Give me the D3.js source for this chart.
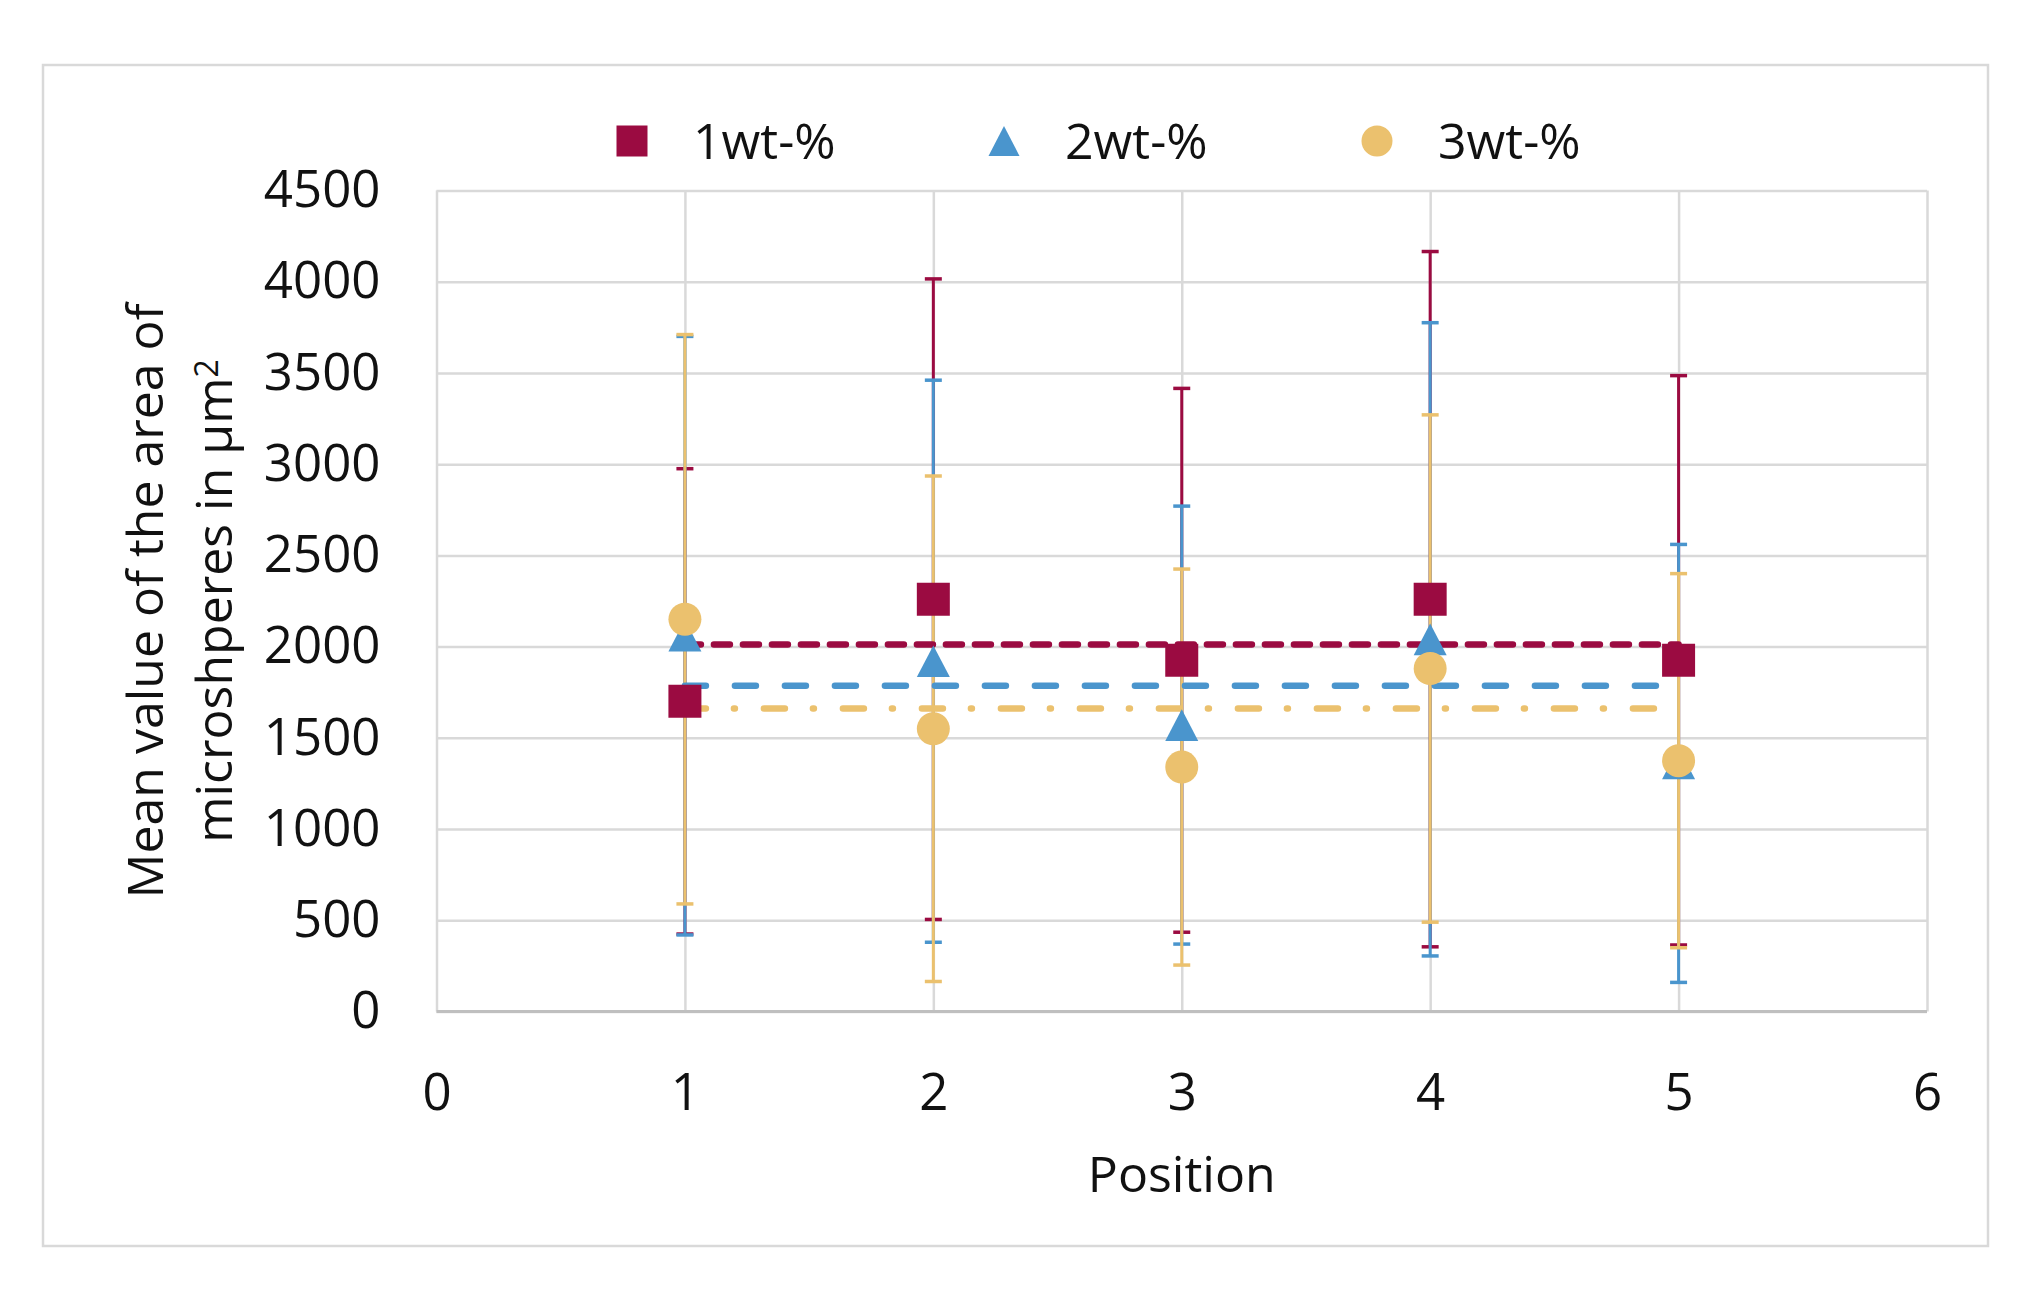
<!DOCTYPE html>
<html>
<head>
<meta charset="utf-8">
<script src="https://cdn.jsdelivr.net/npm/d3@7"></script>
<style>
  body { margin: 0; background: #fff; }
  text { font-family: "Open Sans", "Noto Sans", sans-serif; fill: #111; }
</style>
</head>
<body>
<div id="chart"></div>
<script>
var width = 2031, height = 1298;

// DATA
var positions = [1, 2, 3, 4, 5];
var seriesNames = ["1wt-%", "2wt-%", "3wt-%"];
var wt1 = [1700, 2260, 1925, 2260, 1925];
var wt1Err = [1275, 1755, 1490, 1905, 1560];
var wt2 = [2060, 1920, 1570, 2040, 1360];
var wt2Err = [1640, 1540, 1200, 1735, 1200];
var wt3 = [2150, 1550, 1340, 1880, 1375];
var wt3Err = [1560, 1385, 1085, 1390, 1025];
var meanValues = [2012, 1786, 1661];
var xTicks = [0, 1, 2, 3, 4, 5, 6];
var yTicks = [0, 500, 1000, 1500, 2000, 2500, 3000, 3500, 4000, 4500];

var colors = ["#9b0b41", "#4a95cd", "#ebc16e"];
var dashes = ["16,13", "21,29", "21,28,1,29"];

var margin = {left: 436.5, top: 190.4, right: 2031 - 1927, bottom: 1298 - 1011.6};
var plotW = width - margin.left - margin.right,
    plotH = height - margin.top - margin.bottom;

var x = d3.scaleLinear().domain([0, 6]).range([0, plotW]);
var y = d3.scaleLinear().domain([0, 4500]).range([plotH, 0]);

var series = [
  {name: seriesNames[0], vals: wt1, err: wt1Err, mean: meanValues[0], color: colors[0], dash: dashes[0], shape: "square"},
  {name: seriesNames[1], vals: wt2, err: wt2Err, mean: meanValues[1], color: colors[1], dash: dashes[1], shape: "triangle"},
  {name: seriesNames[2], vals: wt3, err: wt3Err, mean: meanValues[2], color: colors[2], dash: dashes[2], shape: "circle"}
];

// triangle a bit taller than equilateral, like the Excel marker
var triangleType = {
  draw: function(ctx, size) {
    var w = Math.sqrt(size);
    ctx.moveTo(0, -w * 0.48);
    ctx.lineTo(w / 2, w * 0.48);
    ctx.lineTo(-w / 2, w * 0.48);
    ctx.closePath();
  }
};
function markerPath(shape, s) {
  if (shape == "square") return d3.symbol().type(d3.symbolSquare).size(s * s)();
  if (shape == "triangle") return d3.symbol().type(triangleType).size(s * s)();
  return d3.symbol().type(d3.symbolCircle).size(Math.PI * s * s / 4)();
}

var svg = d3.select("#chart").append("svg")
  .attr("width", width)
  .attr("height", height);

svg.append("rect").attr("width", width).attr("height", height).attr("fill", "#fff");

// outer frame
svg.append("rect")
  .attr("x", 43).attr("y", 65)
  .attr("width", 1945).attr("height", 1181)
  .attr("fill", "none")
  .attr("stroke", "#d9d9d9")
  .attr("stroke-width", 2.5);

var g = svg.append("g")
  .attr("transform", "translate(" + margin.left + "," + margin.top + ")");

// AXES + GRID
var yAxis = g.append("g")
  .call(d3.axisLeft(y).tickValues(yTicks).tickFormat(d3.format("d")).tickSize(-plotW).tickPadding(56));
var xAxis = g.append("g")
  .attr("transform", "translate(0," + plotH + ")")
  .call(d3.axisBottom(x).tickValues(xTicks).tickFormat(d3.format("d")).tickSize(-plotH).tickPadding(62));

[yAxis, xAxis].forEach(function(a) {
  a.select(".domain").remove();
  a.selectAll(".tick line").attr("stroke", "#d9d9d9").attr("stroke-width", 2.5);
  a.selectAll(".tick text")
    .style("font-family", '"Open Sans", sans-serif')
    .style("font-size", "51px")
    .attr("fill", "#111");
});

g.append("line")
  .attr("x1", 0).attr("x2", plotW)
  .attr("y1", plotH).attr("y2", plotH)
  .attr("stroke", "#bfbfbf")
  .attr("stroke-width", 3);

// ERROR BARS
var capW = 17;
series.forEach(function(s) {
  var eb = g.append("g").attr("class", "errbars")
    .attr("stroke", s.color).attr("stroke-width", 3);
  positions.forEach(function(p, i) {
    var hi = s.vals[i] + s.err[i], lo = s.vals[i] - s.err[i];
    eb.append("line")
      .attr("x1", x(p)).attr("x2", x(p))
      .attr("y1", y(hi)).attr("y2", y(lo));
    [hi, lo].forEach(function(v) {
      eb.append("line")
        .attr("x1", x(p) - capW / 2).attr("x2", x(p) + capW / 2)
        .attr("y1", y(v)).attr("y2", y(v))
        .attr("stroke-width", 3.5);
    });
  });
});

// MEAN LINES
series.forEach(function(s) {
  g.append("line")
    .attr("x1", x(d3.min(positions))).attr("x2", x(d3.max(positions)))
    .attr("y1", y(s.mean)).attr("y2", y(s.mean))
    .attr("stroke", s.color)
    .attr("stroke-width", 6.5)
    .attr("stroke-linecap", "round")
    .attr("stroke-dasharray", s.dash);
});

// MARKERS
series.forEach(function(s) {
  g.selectAll(null)
    .data(positions.map(function(p, i) { return {p: p, v: s.vals[i]}; }))
    .enter().append("path")
    .attr("transform", function(d) { return "translate(" + x(d.p) + "," + y(d.v) + ")"; })
    .attr("d", markerPath(s.shape, 33))
    .attr("fill", s.color);
});

// AXIS TITLES
svg.append("text")
  .attr("x", margin.left + plotW / 2)
  .attr("y", 1192)
  .attr("text-anchor", "middle")
  .style("font-size", "50px")
  .text("Position");

var yMid = margin.top + plotH / 2;
svg.append("text")
  .attr("transform", "translate(163," + yMid + ") rotate(-90)")
  .attr("text-anchor", "middle")
  .style("font-size", "50px")
  .text("Mean value of the area of");
var t2 = svg.append("text")
  .attr("transform", "translate(232," + yMid + ") rotate(-90)")
  .attr("text-anchor", "middle")
  .style("font-size", "50px");
t2.append("tspan").text("microshperes in µm");
t2.append("tspan").attr("dy", "-0.45em").style("font-size", "32px").text("2");

// LEGEND
var legendX = [632, 1004, 1377];
var legend = svg.selectAll("g.legend")
  .data(series)
  .enter().append("g")
  .attr("class", "legend")
  .attr("transform", function(d, i) { return "translate(" + legendX[i] + ",141)"; });
legend.append("path")
  .attr("d", function(d) { return markerPath(d.shape, 31); })
  .attr("fill", function(d) { return d.color; });
legend.append("text")
  .attr("x", 61)
  .attr("y", 18)
  .style("font-size", "50px")
  .text(function(d) { return d.name; });
</script>
</body>
</html>
